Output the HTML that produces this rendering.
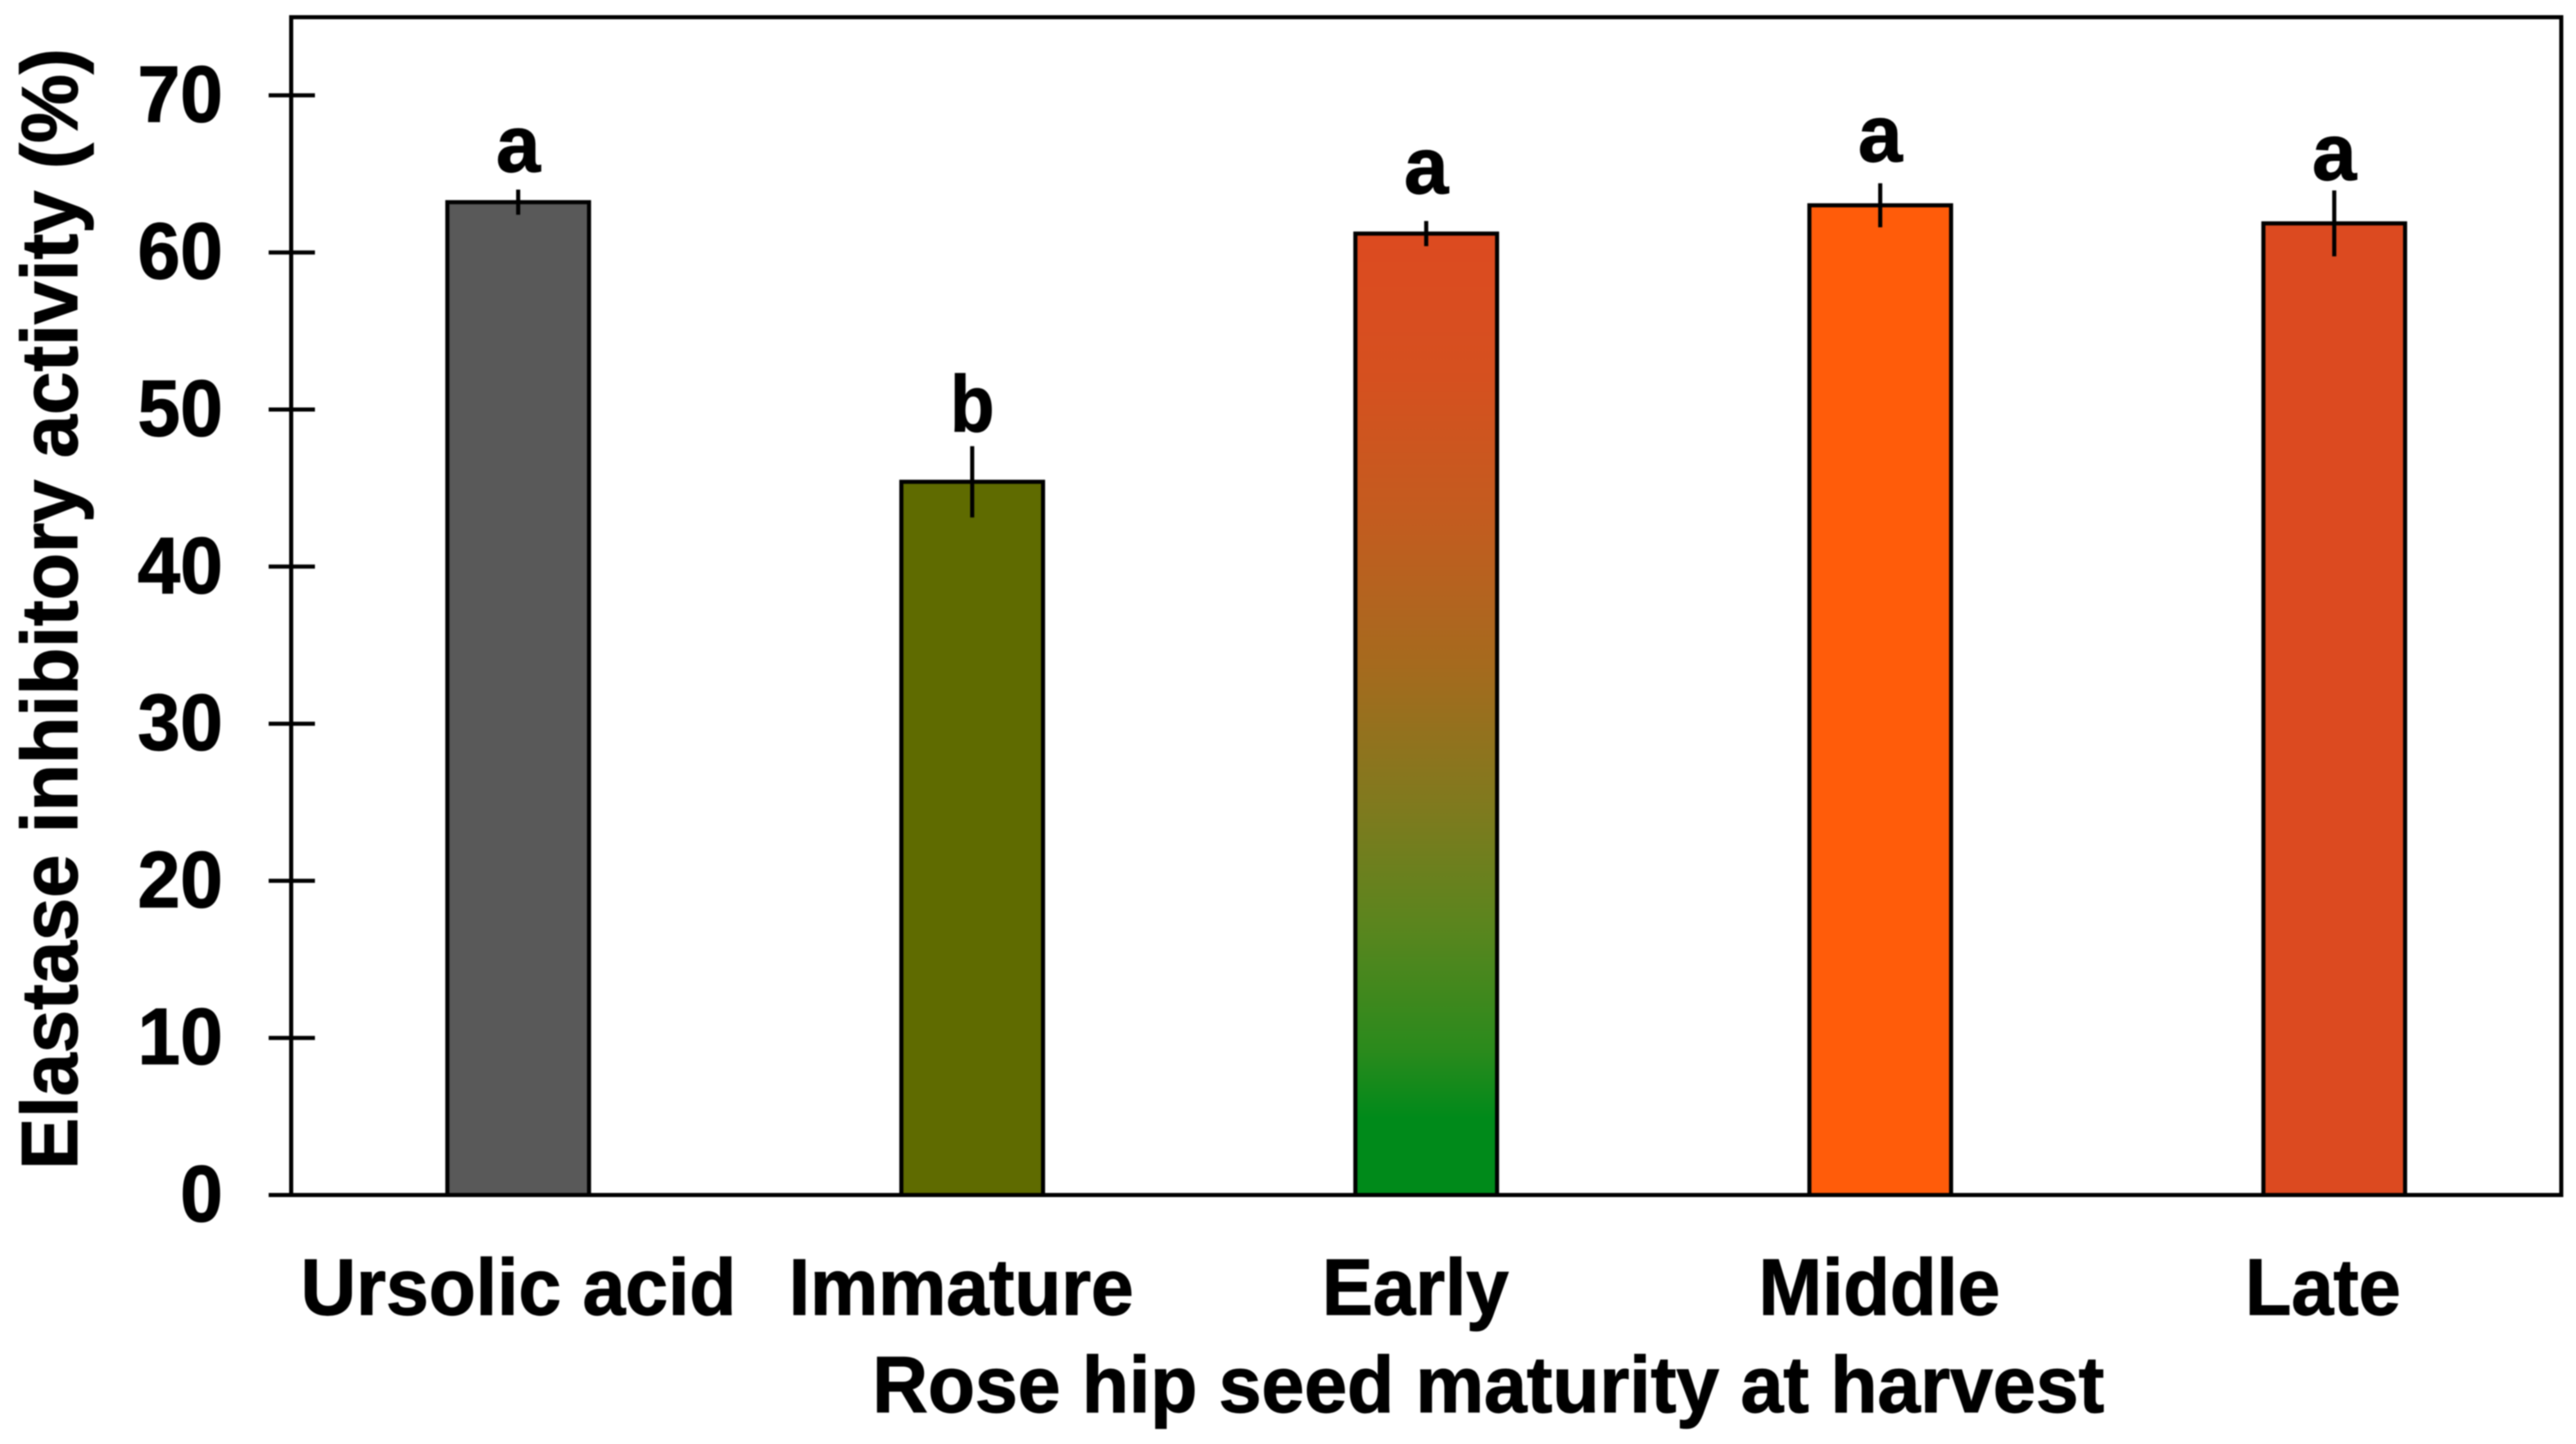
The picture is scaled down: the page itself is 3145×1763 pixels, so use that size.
<!DOCTYPE html>
<html lang="en">
<head>
<meta charset="utf-8">
<title>Elastase inhibitory activity by rose hip seed maturity</title>
<style>
html,body{margin:0;padding:0;background:#fff;width:3145px;height:1763px;overflow:hidden}
svg{display:block;filter:blur(0.8px)}
text{font-family:"Liberation Sans",Arial,sans-serif;font-weight:700;fill:#000;stroke:#000;stroke-width:1.2px}
</style>
</head>
<body>
<svg id="chart" xmlns="http://www.w3.org/2000/svg" width="3145" height="1763" viewBox="0 0 3145 1763">
  <defs>
    <linearGradient id="early-gradient" x1="0" y1="0" x2="0" y2="1">
      <stop offset="0" stop-color="#dc4a20"/>
      <stop offset="0.15" stop-color="#d5501f"/>
      <stop offset="0.3" stop-color="#c25c1f"/>
      <stop offset="0.45" stop-color="#a56a1e"/>
      <stop offset="0.6" stop-color="#7e7a1e"/>
      <stop offset="0.72" stop-color="#5a851e"/>
      <stop offset="0.85" stop-color="#2a8a1c"/>
      <stop offset="0.92" stop-color="#008a1a"/>
      <stop offset="1" stop-color="#008a1a"/>
    </linearGradient>
  </defs>
  <rect x="355.5" y="21" width="2771.5" height="1438" fill="none" stroke="#000" stroke-width="5"/>
  <g id="y-ticks"></g>
  <g id="bars"></g>
  <g id="x-labels"></g>
  <text transform="translate(94 1428) rotate(-90)" font-size="97" textLength="1369" lengthAdjust="spacingAndGlyphs">Elastase inhibitory activity (%)</text>
  <text x="1065" y="1724" font-size="97" textLength="1504" lengthAdjust="spacingAndGlyphs">Rose hip seed maturity at harvest</text>
</svg>
<script>
const categories = ["Ursolic acid", "Immature", "Early", "Middle", "Late"];
const activityValues = [63.2, 45.4, 61.2, 63.0, 61.85];
const errorValues = [0.8, 2.27, 0.8, 1.4, 2.1];
const significanceLetters = ["a", "b", "a", "a", "a"];
const letterGaps = [1.15, 0.94, 1.77, 1.41, 0.68];
const barFills = ["#595959", "#5f6b00", "url(#early-gradient)", "#ff5c0a", "#dc4a20"];
const yTickValues = [0, 10, 20, 30, 40, 50, 60, 70];

const NS = "http://www.w3.org/2000/svg";
const plotLeft = 355.5, plotRight = 3127, y0 = 1459, pxPerUnit = 19.18;
const bandWidth = (plotRight - plotLeft) / categories.length;
const xCenter = i => plotLeft + bandWidth * (i + 0.5);
const yScale = v => y0 - v * pxPerUnit;
function mk(tag, attrs, parent, txt) {
  const el = document.createElementNS(NS, tag);
  for (const k in attrs) el.setAttribute(k, attrs[k]);
  if (txt !== undefined) el.textContent = txt;
  parent.appendChild(el);
  return el;
}
const ticksG = document.getElementById("y-ticks");
const barsG = document.getElementById("bars");
const labelsG = document.getElementById("x-labels");

yTickValues.forEach(v => {
  const y = yScale(v);
  const tick = mk("line", {x1: 328, x2: plotLeft + (v === 0 ? 0 : 29), y1: y, y2: y, stroke: "#000", "stroke-width": 5}, ticksG);
  
  
  const label = mk("text", {x: 272, y: y + 32, "font-size": 97, "text-anchor": "end", textLength: String(v).length * 52, lengthAdjust: "spacingAndGlyphs"}, ticksG, String(v));
  
  
});

const labelBoxes = [[367, 532], [963, 421], [1614, 228], [2147, 295], [2741, 190]];
categories.forEach((c, i) => {
  const cx = xCenter(i);
  const top = yScale(activityValues[i]);
  const bar = mk("rect", {x: cx - 86.5, y: top, width: 173, height: y0 - top, fill: barFills[i], stroke: "#000", "stroke-width": 5}, barsG);
  
  
  const hi = yScale(activityValues[i] + errorValues[i]);
  const lo = yScale(activityValues[i] - errorValues[i]);
  const err = mk("line", {x1: cx, x2: cx, y1: hi, y2: lo, stroke: "#000", "stroke-width": 5}, barsG);
  
  
  const letter = mk("text", {x: cx, y: yScale(activityValues[i] + errorValues[i] + letterGaps[i]), "font-size": 97, "text-anchor": "middle", textLength: 54, lengthAdjust: "spacingAndGlyphs"}, barsG, significanceLetters[i]);
  
  
  const lab = mk("text", {x: labelBoxes[i][0], y: 1605, "font-size": 97, textLength: labelBoxes[i][1], lengthAdjust: "spacingAndGlyphs"}, labelsG, c);
  
  
});
</script>
</body>
</html>
